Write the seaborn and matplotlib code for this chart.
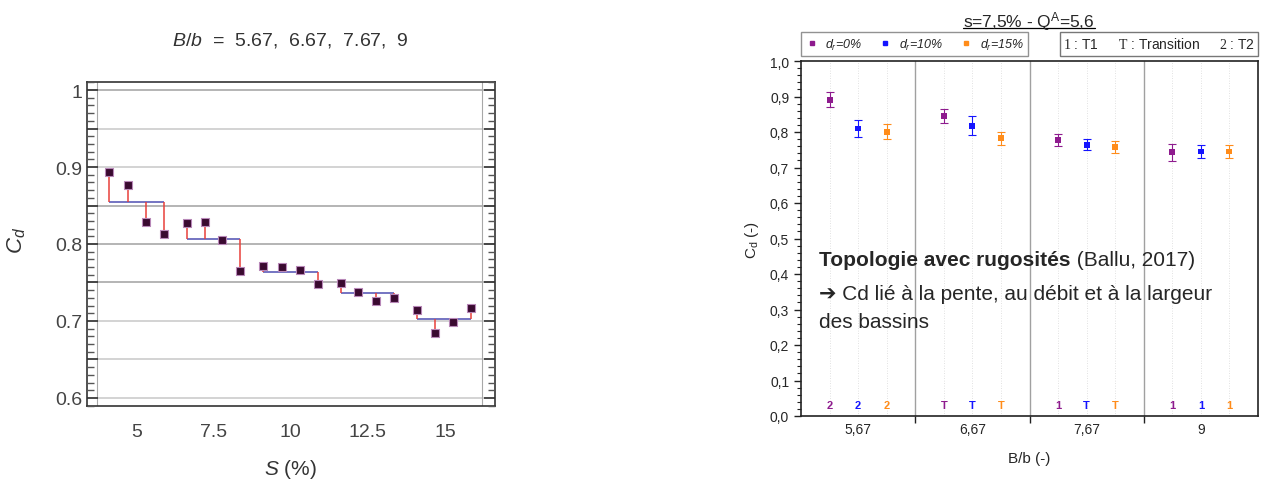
import numpy as np
import pandas as pd
import seaborn as sns
import matplotlib.pyplot as plt
from matplotlib.lines import Line2D
from matplotlib.patches import Rectangle
from matplotlib.ticker import MultipleLocator, FixedLocator, FuncFormatter

# left panel: Cd against slope S (%), four B/b values per slope group
slope = [4.11, 4.71, 5.29, 5.88, 6.63, 7.21, 7.78, 8.35, 9.11, 9.70,
         10.29, 10.87, 11.62, 12.19, 12.77, 13.36, 14.10, 14.68, 15.25, 15.84]
cd_slope = [0.894, 0.877, 0.828, 0.813, 0.827, 0.828, 0.805, 0.765, 0.772, 0.770,
            0.766, 0.748, 0.749, 0.738, 0.726, 0.730, 0.714, 0.684, 0.699, 0.717]
slope_group = [1, 1, 1, 1, 2, 2, 2, 2, 3, 3, 3, 3, 4, 4, 4, 4, 5, 5, 5, 5]
group_level = [0.855, 0.806, 0.764, 0.737, 0.703]
left_xticks = [5, 7.5, 10, 12.5, 15]
left_xticklabels = ["5", "7.5", "10", "12.5", "15"]
left_yticks = [0.6, 0.65, 0.7, 0.75, 0.8, 0.85, 0.9, 0.95, 1.0]
left_yticklabels = ["0.6", "", "0.7", "", "0.8", "", "0.9", "", "1"]

# right panel: Cd against B/b for three roughness densities
ratio_labels = ["5,67", "6,67", "7,67", "9"]
dr_names = ["0%", "10%", "15%"]
cd_dr0 = [0.891, 0.845, 0.777, 0.743]
err_dr0 = [0.021, 0.021, 0.017, 0.024]
cd_dr10 = [0.810, 0.818, 0.764, 0.745]
err_dr10 = [0.025, 0.026, 0.015, 0.017]
cd_dr15 = [0.801, 0.782, 0.757, 0.745]
err_dr15 = [0.021, 0.018, 0.017, 0.017]
regime_dr0 = ["2", "T", "1", "1"]
regime_dr10 = ["2", "T", "T", "1"]
regime_dr15 = ["2", "T", "T", "1"]

sns.set_theme(style="white")
plt.rcParams['font.family'] = ['Liberation Sans', 'DejaVu Sans']
plt.rcParams['mathtext.fontset'] = 'custom'
plt.rcParams['mathtext.rm'] = 'Liberation Serif'
plt.rcParams['mathtext.sf'] = 'Liberation Sans'
plt.rcParams['mathtext.it'] = 'Liberation Sans:italic'
plt.rcParams['mathtext.bf'] = 'Liberation Sans:bold'
plt.rcParams['axes.axisbelow'] = False

fig = plt.figure(figsize=(12.87, 4.81), dpi=100)

# ---------------- left panel ----------------
axl = fig.add_axes([87 / 1287, 1 - 407 / 481, 408 / 1287, 324 / 481])
df_l = pd.DataFrame({"S": slope, "Cd": cd_slope, "g": slope_group})
df_l["level"] = df_l["g"].map(dict(zip(range(1, 6), group_level)))

for yv in left_yticks:
    dark = round(yv, 2) in (0.75, 0.8, 0.85, 1.0)
    axl.axhline(yv, color="#a0a0a0" if dark else "#c8c8c8", lw=1.1, zorder=0)
axl.axvline(3.73, color="#a8a8a8", lw=0.8, zorder=0)
axl.axvline(16.19, color="#a8a8a8", lw=0.8, zorder=0)

for g, lev in zip(range(1, 6), group_level):
    sub = df_l[df_l["g"] == g]
    axl.hlines(lev, sub["S"].min(), sub["S"].max(), color="#5c5cb8", lw=1.2, zorder=2)
axl.vlines(df_l["S"], df_l["level"], df_l["Cd"], color="#e8403a", lw=1.1, zorder=3)
sns.scatterplot(data=df_l, x="S", y="Cd", ax=axl, marker="s", s=30,
                color="#3a0a30", edgecolor="#b888b8", linewidth=0.8, zorder=4)

axl.set_xlim(3.39, 16.62)
axl.set_ylim(0.5896, 1.0104)
axl.set_xticks(left_xticks)
axl.set_xticklabels(left_xticklabels)
axl.set_yticks(left_yticks)
axl.set_yticklabels(left_yticklabels)
axl.yaxis.set_minor_locator(MultipleLocator(0.01))
axl.tick_params(axis="y", which="major", direction="in", length=8, width=1.2,
                left=True, right=True, labelsize=14, labelcolor="#444444", color="#333333")
axl.tick_params(axis="y", which="minor", direction="in", length=5, width=1.0,
                left=True, right=True, color="#555555")
axl.tick_params(axis="x", length=0, labelsize=14, labelcolor="#444444", pad=12)
for sp in axl.spines.values():
    sp.set_color("#333333")
    sp.set_linewidth(1.2)
axl.set_xlabel("")
axl.set_ylabel("")
fig.text(290 / 1287, 1 - 40 / 481, "$B$/$b$  =  5.67,  6.67,  7.67,  9",
         ha="center", va="center", fontsize=14, color="#333333")
fig.text(290 / 1287, 1 - 470 / 481, "$S$ (%)", ha="center", va="center",
         fontsize=15, color="#333333")
fig.text(17 / 1287, 1 - 240 / 481, "$C_d$", ha="center", va="center",
         rotation=90, fontsize=16, color="#333333")

# ---------------- right panel ----------------
axr = fig.add_axes([801 / 1287, 1 - 417 / 481, 457 / 1287, 355 / 481])
colors = ["#8e1b8e", "#1414ff", "#ff8c1a"]
offsets = [-0.25, 0.0, 0.25]
series = [(cd_dr0, err_dr0, regime_dr0), (cd_dr10, err_dr10, regime_dr10),
          (cd_dr15, err_dr15, regime_dr15)]
cat_x = np.arange(1, len(ratio_labels) + 1)

rows = []
for name, (cd, err, reg), off in zip(dr_names, series, offsets):
    for i in range(len(ratio_labels)):
        rows.append({"x": cat_x[i] + off, "Cd": cd[i], "err": err[i],
                     "reg": reg[i], "dr": name})
df_r = pd.DataFrame(rows)

for xs in df_r["x"]:
    axr.axvline(xs, color="#d8d8d8", lw=0.6, ls=(0, (1, 2)), zorder=0)
for xs in cat_x[:-1] + 0.5:
    axr.axvline(xs, color="#a0a0a0", lw=1.0, zorder=0)

for name, col in zip(dr_names, colors):
    sub = df_r[df_r["dr"] == name]
    axr.errorbar(sub["x"], sub["Cd"], yerr=sub["err"], fmt="none", ecolor=col,
                 elinewidth=0.8, capsize=3, capthick=0.8, zorder=2)
    for _, r in sub.iterrows():
        axr.text(r["x"], 0.03, r["reg"], color=col, fontsize=8, fontweight="bold",
                 ha="center", va="center")
sns.scatterplot(data=df_r, x="x", y="Cd", hue="dr", palette=colors, ax=axr,
                marker="s", s=18, linewidth=0, legend=False, zorder=3)

axr.set_xlim(0.5, 4.5)
axr.set_ylim(0, 1.0)
axr.set_xticks(cat_x)
axr.set_xticklabels(ratio_labels)
axr.xaxis.set_minor_locator(FixedLocator(cat_x[:-1] + 0.5))
axr.tick_params(axis="x", which="major", length=0, labelsize=10, pad=4)
axr.tick_params(axis="x", which="minor", direction="out", length=5, width=1,
                bottom=True, color="#222222")
axr.yaxis.set_major_locator(MultipleLocator(0.1))
axr.yaxis.set_minor_locator(MultipleLocator(0.02))
axr.yaxis.set_major_formatter(FuncFormatter(lambda v, p: f"{v:.1f}".replace(".", ",")))
axr.tick_params(axis="y", which="major", direction="out", length=5, width=1,
                left=True, labelsize=10, color="#222222")
axr.tick_params(axis="y", which="minor", direction="out", length=3, width=0.8,
                left=True, color="#222222")
for sp in axr.spines.values():
    sp.set_color("#222222")
    sp.set_linewidth(1.2)
axr.set_xlabel("B/b (-)", fontsize=11, labelpad=11)
axr.set_ylabel(r"C$_\mathsf{d}$ (-)", fontsize=11, labelpad=6)

ttl = fig.text(1029 / 1287, 1 - 22 / 481, r"s=7,5% - Q$^\mathsf{A}$=5,6",
               ha="center", va="center", fontsize=12.5)

# legend of roughness densities
handles = [Line2D([], [], marker="s", ls="none", color=c, markersize=3.5) for c in colors]
labels = [f"$d_r$=" + n for n in dr_names]
leg = axr.legend(handles, labels, loc="lower left", bbox_to_anchor=(0, 1.014, 0.497, 0.068),
                 mode="expand", ncol=3, frameon=True, fancybox=False, borderaxespad=0,
                 prop={"size": 9, "style": "italic"}, handlelength=1.0, handletextpad=0.6,
                 columnspacing=1.0, borderpad=0.35)
leg.get_frame().set_edgecolor("#777777")
leg.get_frame().set_linewidth(1.0)

# regime key box
axr.add_patch(Rectangle((0.567, 1.014), 0.433, 0.068, transform=axr.transAxes,
                        fill=False, edgecolor="#777777", lw=1.0, clip_on=False))
for xk, key in zip([0.613, 0.783, 0.954],
                   [r"$\mathrm{1}$ : T1", r"$\mathrm{T}$ : Transition", r"$\mathrm{2}$ : T2"]):
    axr.text(xk, 1.048, key, transform=axr.transAxes, ha="center", va="center", fontsize=10)

# annotation
t1 = axr.text(0.04, 0.442, "Topologie avec rugosités", transform=axr.transAxes,
              fontsize=15, fontweight="bold", va="center", ha="left")
fig.canvas.draw()
rend = fig.canvas.get_renderer()
bb = t1.get_window_extent(rend).transformed(axr.transAxes.inverted())
axr.text(bb.x1, 0.442, " (Ballu, 2017)", transform=axr.transAxes, fontsize=15,
         va="center", ha="left")
axr.text(0.04, 0.344, "➔ Cd lié à la pente, au débit et à la largeur",
         transform=axr.transAxes, fontsize=15, va="center", ha="left",
         family=["Liberation Sans", "DejaVu Sans"])
axr.text(0.04, 0.266, "des bassins", transform=axr.transAxes, fontsize=15,
         va="center", ha="left")

# underline of the title
fig.canvas.draw()
tb = ttl.get_window_extent(rend).transformed(fig.transFigure.inverted())
yline = 1 - 29 / 481
fig.add_artist(Line2D([tb.x0, tb.x1], [yline, yline], color="black",
                      lw=0.9, transform=fig.transFigure))

fig.savefig("out.png", dpi=100)
